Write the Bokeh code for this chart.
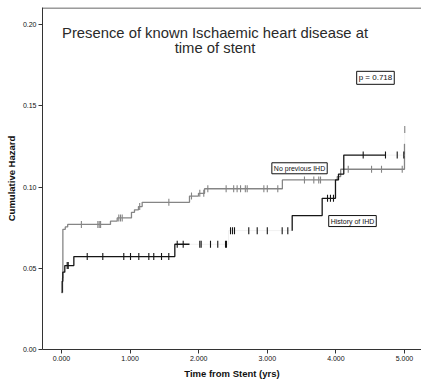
import numpy as np
from bokeh.plotting import figure
from bokeh.models import Label, Span, Range1d, FixedTicker
from bokeh.embed import file_html
from bokeh.resources import INLINE

# ---------------- data ----------------
# No previous IHD: step times (yrs) and cumulative hazard after each step
npi_time = [0.0, 0.015, 0.02, 0.055, 0.09, 0.714, 0.812, 1.02, 1.064, 1.122, 1.176,
            1.866, 1.997, 2.085, 3.22, 4.02, 4.07, 5.0, 5.004]
npi_hazard = [0.035, 0.044, 0.074, 0.0755, 0.077, 0.079, 0.081, 0.0845, 0.086, 0.088, 0.0906,
              0.0945, 0.0962, 0.099, 0.1044, 0.1065, 0.111, 0.1265, 0.1355]
npi_censored = [0.29, 0.53, 0.55, 0.57, 0.835, 0.86, 0.885, 1.14, 1.565, 1.895, 2.016,
                2.074, 2.133, 2.40, 2.51, 2.56, 2.61, 2.68, 2.707, 2.95, 3.0, 3.153,
                3.542, 3.678, 3.75, 3.776, 4.18, 4.52, 4.665, 4.967, 5.004]

# History of IHD
hist_time = [0.0, 0.01, 0.019, 0.048, 0.18, 1.652, 2.434, 3.363, 3.80, 3.994, 4.038, 4.115, 5.0]
hist_hazard = [0.0353, 0.042, 0.0476, 0.0517, 0.0572, 0.0648, 0.0732, 0.0825, 0.0931,
               0.1044, 0.108, 0.1197, 0.1197]
hist_censored = [0.083, 0.098, 0.375, 0.602, 0.908, 1.006, 1.127, 1.273, 1.345, 1.458, 1.564,
                 1.687, 1.774, 2.016, 2.036, 2.172, 2.278, 2.391, 2.405,
                 2.464, 2.493, 2.522, 2.73, 2.853, 3.0, 3.217, 3.299,
                 3.878, 3.921, 3.965, 4.398, 4.723, 4.894, 4.99]

x_ticks = [0, 1, 2, 3, 4, 5]
x_tick_labels = ["0.000", "1.000", "2.000", "3.000", "4.000", "5.000"]
y_ticks = [0.0, 0.05, 0.10, 0.15, 0.20]
y_tick_labels = ["0.00", "0.05", "0.10", "0.15", "0.20"]

# parts of the curves that are not visible in the reference picture
npi_hidden = [(5.001, 5.1)]
hist_hidden = [(1.866, 3.363), (4.723, 5.1)]

FONT = "Liberation Sans"
NPI_COLOR = "#858585"
HIST_COLOR = "#151515"


def level_at(times, haz, t):
    idx = int(np.searchsorted(times, t, side="right")) - 1
    return haz[max(idx, 0)]


def step_pieces(times, haz, hidden):
    bounds = sorted(b for iv in hidden for b in iv)
    segs = []
    for i in range(len(times) - 1):
        t0, t1, h = times[i], times[i + 1], haz[i]
        cuts = [t0] + [b for b in bounds if t0 < b < t1] + [t1]
        for a, b in zip(cuts[:-1], cuts[1:]):
            segs.append(((a, h), (b, h)))
        segs.append(((t1, h), (t1, haz[i + 1])))
    out = {True: ([], []), False: ([], [])}
    prev_flag, prev_end = None, None
    for p0, p1 in segs:
        mid = (p0[0] + p1[0]) / 2
        flag = any(lo < mid < hi for lo, hi in hidden)
        xs, ys = out[flag]
        if flag == prev_flag and prev_end == p0:
            xs[-1].append(p1[0])
            ys[-1].append(p1[1])
        else:
            xs.append([p0[0], p1[0]])
            ys.append([p0[1], p1[1]])
        prev_flag, prev_end = flag, p1
    return out


p = figure(width=421, height=387,
           x_range=Range1d(-0.277, 5.248), y_range=Range1d(0.0, 0.2106),
           output_backend="svg", toolbar_location=None,
           min_border_left=42, min_border_right=0, min_border_top=7, min_border_bottom=38)
p.outline_line_color = None
p.border_fill_color = "white"
p.xgrid.visible = False
p.ygrid.visible = False
p.background_fill_color = "white"

for times, haz, cens, hidden, color in [
    (npi_time, npi_hazard, npi_censored, npi_hidden, NPI_COLOR),
    (hist_time, hist_hazard, hist_censored, hist_hidden, HIST_COLOR),
]:
    pieces = step_pieces(times, haz, hidden)
    vx, vy = pieces[False]
    hx, hy = pieces[True]
    if hx:
        p.multi_line(hx, hy, line_color="#f1f1f1", line_width=1)
    p.multi_line(vx, vy, line_color=color, line_width=1.3)
    levels = [level_at(times, haz, t) for t in cens]
    p.scatter(cens, levels, marker="dash", angle=np.pi / 2, size=7,
              line_color=color, line_width=1.1)

# top frame line (the frame continues past the right edge of the picture)
p.add_layout(Span(location=0.2103, dimension="width", line_color="#333333", line_width=1))

# axes
for ax, ticks, labels in [(p.xaxis[0], x_ticks, x_tick_labels), (p.yaxis[0], y_ticks, y_tick_labels)]:
    ax.ticker = FixedTicker(ticks=ticks)
    ax.major_label_overrides = {t: l for t, l in zip(ticks, labels)}
    ax.minor_tick_line_color = None
    ax.major_tick_in = 0
    ax.major_tick_out = 4
    ax.axis_line_color = "#333333"
    ax.major_tick_line_color = "#333333"
    ax.major_label_text_font = FONT
    ax.major_label_text_font_size = "7px"
    ax.major_label_text_color = "#111111"
    ax.axis_label_text_font = FONT
    ax.axis_label_text_font_size = "9.5px"
    ax.axis_label_text_font_style = "bold"
    ax.axis_label_text_color = "#111111"

p.xaxis.axis_label = "Time from Stent (yrs)"
p.yaxis.axis_label = "Cumulative Hazard"
p.xaxis.major_label_standoff = 2
p.xaxis.axis_label_standoff = 4
p.yaxis.major_label_standoff = 2
p.yaxis.axis_label_standoff = 3

# title inside the plot
p.add_layout(Label(x=2.238, y=0.1946, text="Presence of known Ischaemic heart disease at",
                   text_align="center", text_baseline="middle", text_font=FONT,
                   text_font_size="14.8px", text_color="#2a2a2a"))
p.add_layout(Label(x=2.238, y=0.1858, text="time of stent",
                   text_align="center", text_baseline="middle", text_font=FONT,
                   text_font_size="14.8px", text_color="#2a2a2a"))

# boxed annotations
for x, y, txt in [(4.577, 0.1673, "p = 0.718"),
                  (3.47, 0.1116, "No previous IHD"),
                  (4.242, 0.0791, "History of IHD")]:
    p.add_layout(Label(x=x, y=y, text=txt, text_align="center", text_baseline="middle",
                       text_font=FONT, text_font_size="8px" if txt.startswith("p") else "7px",
                       text_color="#111111", border_line_color="#111111", border_line_width=1,
                       background_fill_color="white", padding=2))

open("out.html", "w").write(file_html(p, INLINE))
